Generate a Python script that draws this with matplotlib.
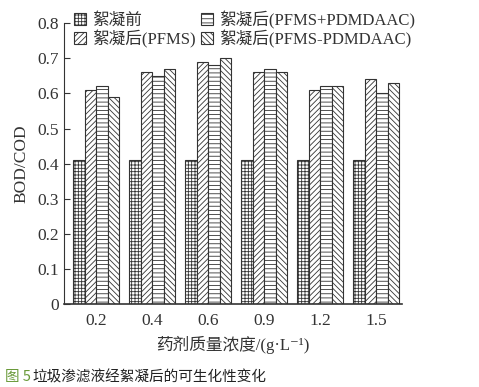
import numpy as np
import matplotlib
matplotlib.use('Agg')
import matplotlib.pyplot as plt

plt.rcParams['font.family'] = ['Liberation Serif', 'Noto Sans CJK SC', 'DejaVu Sans']
plt.rcParams['hatch.linewidth'] = 0.6
plt.rcParams['hatch.color'] = '#444444'

# data
doses = ['0.2', '0.4', '0.6', '0.9', '1.2', '1.5']
before = [0.41, 0.41, 0.41, 0.41, 0.41, 0.41]
pfms = [0.61, 0.66, 0.69, 0.66, 0.61, 0.64]
pfms_plus = [0.62, 0.65, 0.68, 0.67, 0.62, 0.60]
pfms_minus = [0.59, 0.67, 0.70, 0.66, 0.62, 0.63]

labels = ['絮凝前', '絮凝后(PFMS)', '絮凝后(PFMS+PDMDAAC)', '絮凝后(PFMS-PDMDAAC)']
hatches = ['+++++', '//////', '----', '\\\\\\\\\\\\']

fig = plt.figure(figsize=(4.79, 3.87), dpi=100)
ax = fig.add_axes([0.134, 0.214, 0.705, 0.726])

x = np.arange(len(doses))
w = 0.205
series = [before, pfms, pfms_plus, pfms_minus]
bars = []
for i, vals in enumerate(series):
    b = ax.bar(x + (i - 1.5) * w, vals, w, color='white', edgecolor='#333333',
               linewidth=0.8, hatch=hatches[i], label=labels[i])
    bars.append(b)

ax.set_ylim(0, 0.8)
ax.set_xlim(-0.57, 5.46)
ax.set_yticks(np.arange(0, 0.81, 0.1))
ax.set_yticklabels(['0'] + ['%.1f' % v for v in np.arange(0.1, 0.81, 0.1)])
ax.set_xticks(x)
ax.set_xticklabels(doses)
ax.tick_params(axis='y', direction='in', length=4, labelsize=12.5, colors='#333333')
ax.tick_params(axis='x', length=0, labelsize=12.5, colors='#333333', pad=6)
ax.spines['top'].set_visible(False)
ax.spines['right'].set_visible(False)
ax.spines['left'].set_color('#333333')
ax.spines['bottom'].set_color('#333333')
ax.spines['bottom'].set_linewidth(1.2)

ax.set_ylabel('BOD/COD', fontsize=12.5, color='#333333', labelpad=6)
ax.set_xlabel('药剂质量浓度/(g·L⁻¹)', fontsize=12, color='#333333', labelpad=5)

# legend: two columns, order matches reference
ax.legend(handles=[bars[0], bars[1], bars[2], bars[3]], ncol=2, frameon=False,
          loc='upper left', bbox_to_anchor=(0.0, 1.08), fontsize=12,
          handlelength=0.7, handleheight=0.7, handletextpad=0.4,
          columnspacing=0.3, labelspacing=0.05, borderaxespad=0.2,
          labelcolor='#333333')

fig.text(0.01, 0.015, '图 5', color='#6a9a3a', fontsize=10.5, family=['Noto Sans CJK SC'])
fig.text(0.068, 0.015, '垃圾渗滤液经絮凝后的可生化性变化', color='#222222', fontsize=10.5,
         family=['Noto Sans CJK SC'])

fig.savefig('out.png', dpi=100)
